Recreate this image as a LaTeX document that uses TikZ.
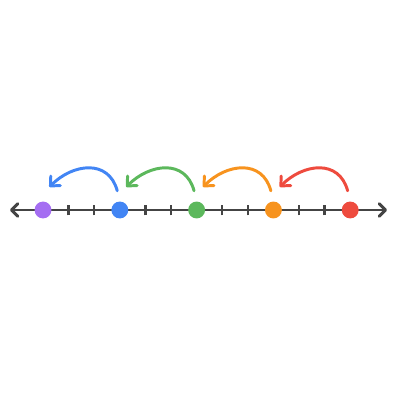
\documentclass[tikz,border=0pt]{standalone}
\usetikzlibrary{arrows.meta}
\usetikzlibrary{calc}
\definecolor{linegray}{HTML}{444444}
\definecolor{dotpurple}{HTML}{A56EF2}
\definecolor{dotblue}{HTML}{4285F4}
\definecolor{dotgreen}{HTML}{5CB85C}
\definecolor{dotorange}{HTML}{F7931E}
\definecolor{dotred}{HTML}{EE4B3E}
\tikzset{
	axisstyle/.style={draw=linegray,line width=3.3pt,{Straight Barb[length=7pt,width=14pt,round]}-{Straight Barb[length=7pt,width=14pt,round]}},
	tickstyle/.style={draw=linegray,line width=2.6pt},
	dotstyle/.style={circle,inner sep=0pt,minimum size=0.66cm},
	hopstyle/.style={line width=3.3pt,line cap=round,-{Straight Barb[length=8pt,width=15pt,round]}}
}

\begin{document}
\begin{tikzpicture}
	\useasboundingbox (-1.680,-7.422) rectangle (13.945,8.203);
	\coordinate (lend) at (-1.29,0);
	\coordinate (rend) at (13.44,0);
	\draw[axisstyle] (lend)--(rend);
	\foreach \x in {1,2,4,5,7,8,10,11}
	\draw[tickstyle] (\x,-0.21)--(\x,0.21);
	\foreach \c [count=\i from 0] in {dotpurple,dotblue,dotgreen,dotorange,dotred}
	{
		\node[dotstyle,fill=\c] (d\i) at (3*\i,0) {};
	}
	\foreach \c [count=\i] in {dotblue,dotgreen,dotorange,dotred}
	{
		\pgfmathtruncatemacro{\j}{\i-1}
		\draw[hopstyle,draw=\c] ($(d\i)+(-0.1,0.75)$) to[out=105,in=45,looseness=1.25] ($(d\j)+(0.25,0.9)$);
	}
\end{tikzpicture}
\end{document}
